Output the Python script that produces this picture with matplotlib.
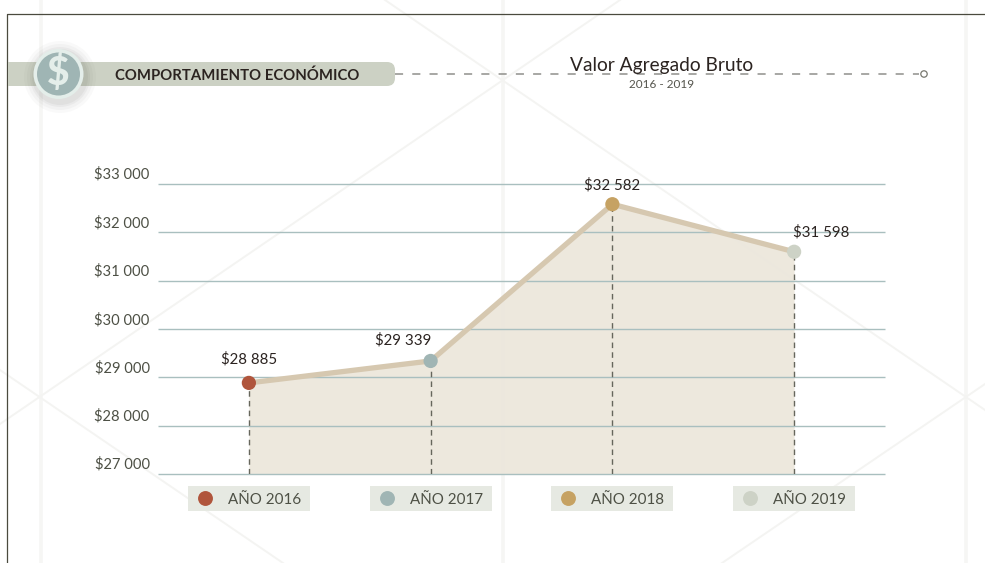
import matplotlib
matplotlib.use("Agg")
import matplotlib.pyplot as plt
from matplotlib.patches import Circle, FancyBboxPatch, Rectangle
from matplotlib.transforms import ScaledTranslation

plt.rcParams['font.family'] = ['Lato', 'DejaVu Sans']

years = ["2016", "2017", "2018", "2019"]
values = [28885, 29339, 32582, 31598]
point_colors = ["#b0553c", "#a0b5b4", "#c6a263", "#cdd2c6"]
y_ticks = [27000, 28000, 29000, 30000, 31000, 32000, 33000]
label_offsets = [(0, 24), (-27, 21), (0, 19), (27, 20)]


def money(v):
    return "$" + f"{v:,}".replace(",", " ")


fig = plt.figure(figsize=(9.85, 5.63), dpi=100)

# background and header, in pixels
bg = fig.add_axes([0, 0, 1, 1])
bg.set_xlim(0, 985)
bg.set_ylim(563, 0)
bg.axis("off")

for x in [41, 503, 966]:
    bg.plot([x, x], [0, 563], color="#f6f6f4", lw=2.6, zorder=1)
for xs, ys in [([385, 985], [0, 410]), ([620, 0], [0, 424]), ([0, 283], [370, 563]),
               ([722, 985], [563, 384])]:
    bg.plot(xs, ys, color="#f4f4f2", lw=1.4, zorder=1)

bg.plot([7, 7, 985], [563, 13.5, 13.5], color="#4a4a3e", lw=0.9, zorder=2)

bg.plot([395, 919], [74, 74], color="#8f8f8b", lw=1.1, dashes=(5.3, 6), zorder=2)
bg.add_patch(Circle((924, 74), 3.2, fc="white", ec="#77776f", lw=0.9, zorder=3))

bg.add_patch(Rectangle((8, 62), 370, 24, fc="#ccd1c4", ec="none", zorder=3))
bg.add_patch(FancyBboxPatch((360, 62), 35, 24, boxstyle="round,pad=0,rounding_size=8",
                            fc="#ccd1c4", ec="none", zorder=3))
for r, a in [(36, 0.03), (33, 0.04), (30, 0.05), (28, 0.06)]:
    bg.add_patch(Circle((60, 77), r, fc="#55554d", ec="none", alpha=a, zorder=4))
bg.add_patch(Circle((58.5, 74), 25, fc="#e4eeea", ec="none", zorder=5))
bg.add_patch(Circle((58.5, 74), 21.5, fc="#9fb5b4", ec="none", zorder=6))
bg.text(58.5, 73.5, "$", fontsize=28, fontweight="black", color="#e4eeea", ha="center",
        va="center", zorder=7)
bg.text(237.5, 75.5, "COMPORTAMIENTO ECONÓMICO", fontsize=10.7, fontweight="bold", color="#2b2320",
        ha="center", va="center", zorder=7)

bg.text(661.5, 65, "Valor Agregado Bruto", fontsize=13.8, color="#2b2320", ha="center", va="center", zorder=7)
bg.text(661.5, 85, "2016 - 2019", fontsize=8.5, color="#55554d", ha="center", va="center", zorder=7)

# chart
ax = fig.add_axes([158 / 985, 1 - 474 / 563, 727 / 985, 290 / 563])
ax.patch.set_alpha(0)
x_pos = list(range(len(values)))
ax.set_xlim(-0.5, 3.5)
ax.set_ylim(27000, 33000)

ax.fill_between(x_pos, values, 27000, color="#ece7dc", alpha=0.95, lw=0, zorder=1)
for y in y_ticks:
    ax.axhline(y, color="#a9bfbf", lw=1, zorder=2, clip_on=False, solid_capstyle="butt")
ax.vlines(x_pos, 27000, values, color="#66665c", lw=1, linestyles=(0, (4, 3)), zorder=3)
ax.plot(x_pos, values, color="#d6c8b0", lw=3.8, zorder=4, solid_capstyle="round")
ax.scatter(x_pos, values, s=105, c=point_colors, zorder=5, lw=0)

for x, v, off in zip(x_pos, values, label_offsets):
    ax.annotate(money(v), (x, v), xytext=off, textcoords="offset pixels", ha="center", va="center",
                fontsize=10.8, color="#2b2320", zorder=6)

ax.set_yticks(y_ticks)
ax.set_yticklabels([money(v) for v in y_ticks], fontsize=10.6, color="#4d5045", va="bottom")
ax.tick_params(axis="y", length=0, pad=6)
up = ScaledTranslation(0, 2 / 100, fig.dpi_scale_trans)
for lab in ax.get_yticklabels():
    lab.set_transform(lab.get_transform() + up)
ax.set_xticks([])
for s in ax.spines.values():
    s.set_visible(False)

# legend under each point
tr = ax.get_xaxis_transform()
for x, year, c in zip(x_pos, years, point_colors):
    ax.add_patch(Rectangle((x - 61 / 181.75, -37 / 290), 122 / 181.75, 25 / 290, transform=tr,
                           fc="#e6e9e2", ec="none", clip_on=False, zorder=1))
    ax.scatter([x - 44 / 181.75], [-24 / 290], s=115, c=c, transform=tr, clip_on=False, lw=0, zorder=2)
    ax.text(x + 15.5 / 181.75, -26 / 290, "AÑO " + year, transform=tr, ha="center", va="center",
            fontsize=10.9, color="#4d5045", zorder=3)

fig.savefig("out.png", dpi=100)
